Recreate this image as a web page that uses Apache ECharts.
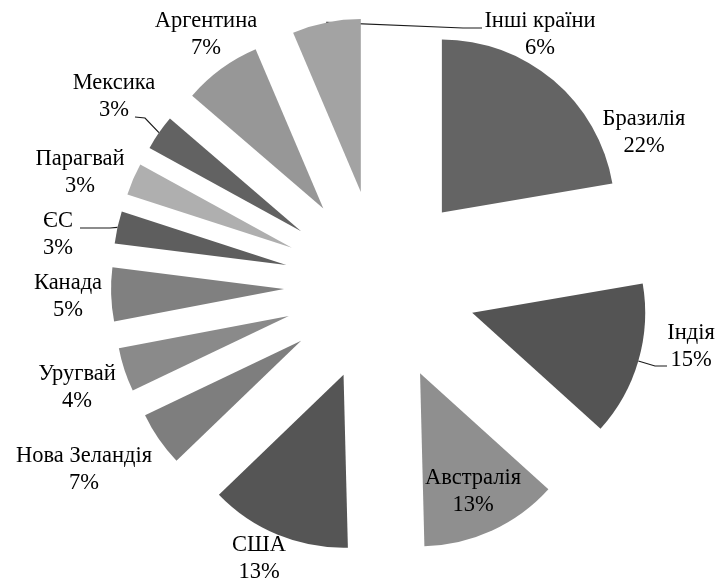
<!DOCTYPE html>
<html>
<head>
<meta charset="utf-8">
<script src="https://cdn.jsdelivr.net/npm/echarts@6/dist/echarts.min.js"></script>
<style>
  html, body { margin: 0; padding: 0; background: #fff; }
  #chart { width: 716px; height: 581px; }
</style>
</head>
<body>
<div id="chart"></div>
<script>
// slice data, clockwise from 12 o'clock
var countries = ['Бразилія', 'Індія', 'Австралія', 'США', 'Нова Зеландія', 'Уругвай',
  'Канада', 'ЄС', 'Парагвай', 'Мексика', 'Аргентина', 'Інші країни'];
var shares = [22.3, 14.4, 12.9, 13.2, 5.1, 4.1, 5.0, 3.0, 3.0, 3.3, 7.3, 6.4];
var pctLabels = ['22%', '15%', '13%', '13%', '7%', '4%', '5%', '3%', '3%', '3%', '7%', '6%'];

var colors = ['#646464', '#545454', '#8f8f8f', '#555555', '#7e7e7e', '#8a8a8a',
  '#808080', '#5e5e5e', '#afafaf', '#626262', '#979797', '#a3a3a3'];

// layout
var cx = 380, cy = 286, R = 173, explode = 96;
// label centres (excel "best fit" placement)
var labelPos = [[644, 133], [691, 347], [473, 492], [259, 559], [84, 470], [77, 388],
  [68, 297], [58, 235], [80, 173], [114, 97], [206, 35], [540, 35]];
// leader lines: elbow + end next to the text
var leaders = {
  1: [[655, 366], [667, 366]],
  7: [[110, 228], [80, 228]],
  9: [[145, 118], [135, 117]],
  11: [[463, 28], [482, 28]]
};

var total = shares.reduce(function (a, b) { return a + b; }, 0);
function arcMid(i) {
  var before = 0;
  for (var k = 0; k < i; k++) before += shares[k];
  var a = (before + shares[i] / 2) / total * Math.PI * 2;
  return [cx + (R + explode) * Math.sin(a), cy - (R + explode) * Math.cos(a)];
}

var chart = echarts.init(document.getElementById('chart'));

var slices = countries.map(function (n, i) {
  return { name: n, value: shares[i], selected: true, itemStyle: { color: colors[i] } };
});
var ghost = countries.map(function (n, i) {
  return { name: n, value: shares[i], labelLine: { show: !!leaders[i] } };
});

chart.setOption({
  animation: false,
  series: [
    {
      type: 'pie',
      center: [cx, cy],
      radius: R,
      startAngle: 90,
      selectedMode: 'multiple',
      selectedOffset: explode,
      silent: true,
      label: { show: false },
      labelLine: { show: false },
      itemStyle: { borderWidth: 0 },
      select: { itemStyle: { borderWidth: 0 } },
      emphasis: { disabled: true },
      data: slices
    },
    {
      // invisible copy that only carries the labels
      type: 'pie',
      center: [cx, cy],
      radius: R + explode,
      startAngle: 90,
      silent: true,
      avoidLabelOverlap: false,
      itemStyle: { color: 'rgba(0,0,0,0)' },
      emphasis: { disabled: true },
      label: {
        show: true,
        position: 'outside',
        fontFamily: 'Liberation Serif',
        fontSize: 22.5,
        lineHeight: 27,
        color: '#000',
        formatter: function (p) { return p.name + '\n' + pctLabels[p.dataIndex]; }
      },
      labelLine: { minTurnAngle: 0, maxSurfaceAngle: 180, lineStyle: { color: '#1a1a1a', width: 1.2 } },
      labelLayout: function (p) {
        var i = p.dataIndex;
        var out = {
          x: labelPos[i][0],
          y: labelPos[i][1],
          align: 'center',
          verticalAlign: 'middle'
        };
        if (leaders[i]) {
          out.labelLinePoints = [arcMid(i), leaders[i][0], leaders[i][1]];
        }
        return out;
      },
      data: ghost
    }
  ]
});
</script>
</body>
</html>
